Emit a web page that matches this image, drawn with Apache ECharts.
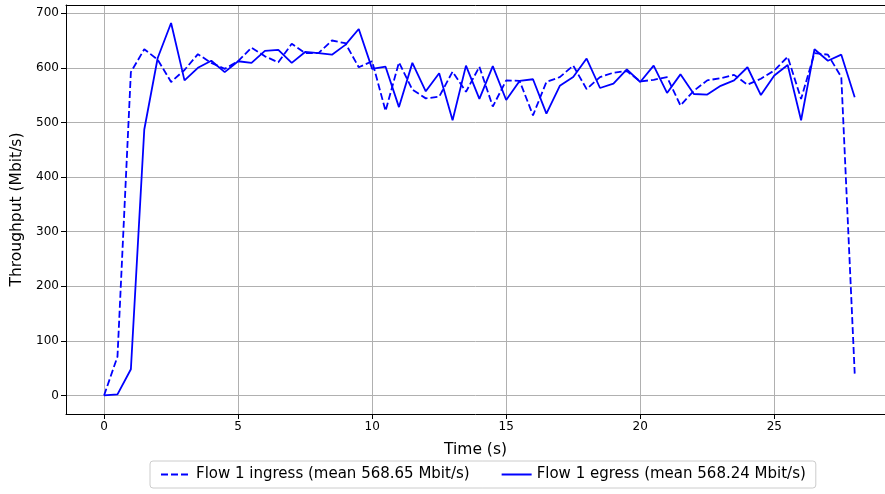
<!DOCTYPE html>
<html>
<head>
<meta charset="utf-8">
<script src="https://cdn.jsdelivr.net/npm/echarts@6/dist/echarts.min.js"></script>
<style>
html,body{margin:0;padding:0;background:#fff;}
#chart{width:885px;height:494px;}
</style>
</head>
<body>
<div id="chart"></div>
<script>
const times = [0,0.5,1,1.5,2,2.5,3,3.5,4,4.5,5,5.5,6,6.5,7,7.5,8,8.5,9,9.5,10,10.5,11,11.5,12,12.5,13,13.5,14,14.5,15,15.5,16,16.5,17,17.5,18,18.5,19,19.5,20,20.5,21,21.5,22,22.5,23,23.5,24,24.5,25,25.5,26,26.5,27,27.5,28];
const ingress = [0,71,592,634,615,574,596,625,609,598,612,637,621,610,644,627,627,650,645,601,612,521,610,560,544,547,593,556,602,529,577,576,513,574,583,604,561,583,591,594,575,578,583,531,558,577,581,587,569,580,595,620,543,627,624,583,40];
const egress = [0,2,48,487,618,682,577,600,613,592,612,609,631,633,609,629,627,624,642,671,598,602,528,609,557,590,504,604,543,603,541,576,579,516,567,583,617,563,571,597,574,604,554,588,552,551,567,577,601,550,586,605,504,634,613,624,546];
const xTicks = [0,5,10,15,20,25];
const yTicks = [0,100,200,300,400,500,600,700];
const legendNames = ['Flow 1 ingress (mean 568.65 Mbit/s)','Flow 1 egress (mean 568.24 Mbit/s)'];

const font = 'DejaVu Sans';
const xMin = -1.42, xMax = 29.13;
const chart = echarts.init(document.getElementById('chart'), null, {renderer:'canvas'});
chart.setOption({
  animation:false,
  backgroundColor:'#ffffff',
  grid:{left:66,right:0,top:5,bottom:80,show:false},
  legend:{
    data:legendNames,
    left:150, top:461,
    padding:[6,10],
    itemGap:31,
    itemWidth:30, itemHeight:14,
    borderColor:'#cccccc', borderWidth:1, borderRadius:3,
    itemStyle:{color:'rgba(0,0,0,0)',borderColor:'rgba(0,0,0,0)',borderWidth:0},
    textStyle:{fontFamily:font,fontSize:15,color:'#000'}
  },
  xAxis:[{
    type:'value', min:xMin, max:xMax, position:'bottom',
    name:'Time (s)', nameLocation:'middle', nameGap:28,
    nameTextStyle:{fontFamily:font,fontSize:15.5,color:'#000'},
    axisLine:{show:true,onZero:false,lineStyle:{color:'#000',width:1}},
    axisTick:{show:true,length:5,lineStyle:{color:'#000'},customValues:xTicks},
    axisLabel:{fontFamily:font,fontSize:12,color:'#000',margin:7,customValues:xTicks},
    splitLine:{show:true,lineStyle:{color:'#b0b0b0',width:1}}
  },{
    type:'value', min:xMin, max:xMax, position:'top',
    axisLine:{show:true,onZero:false,lineStyle:{color:'#000',width:1}},
    axisTick:{show:false}, axisLabel:{show:false}, splitLine:{show:false}
  }],
  yAxis:{
    type:'value', min:-34, max:715,
    name:'Throughput (Mbit/s)', nameLocation:'middle', nameGap:38, nameRotate:90,
    nameTextStyle:{fontFamily:font,fontSize:15.5,color:'#000'},
    axisLine:{show:true,onZero:false,lineStyle:{color:'#000',width:1}},
    axisTick:{show:true,length:5,lineStyle:{color:'#000'},customValues:yTicks},
    axisLabel:{fontFamily:font,fontSize:12,color:'#000',margin:7,customValues:yTicks},
    splitLine:{show:true,lineStyle:{color:'#b0b0b0',width:1}}
  },
  series:[
    {name:legendNames[0],type:'line',xAxisIndex:0,data:times.map((t,i)=>[t,ingress[i]]),symbol:'none',
     lineStyle:{color:'#0000ff',width:1.8,type:[7,3]},itemStyle:{color:'#0000ff'}},
    {name:legendNames[1],type:'line',xAxisIndex:0,data:times.map((t,i)=>[t,egress[i]]),symbol:'none',
     lineStyle:{color:'#0000ff',width:1.8,type:'solid'},itemStyle:{color:'#0000ff'}}
  ]
});
</script>
</body>
</html>
